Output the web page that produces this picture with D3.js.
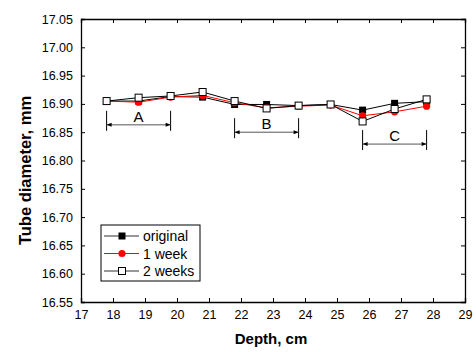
<!DOCTYPE html>
<html>
<head>
<meta charset="utf-8">
<script src="https://cdn.jsdelivr.net/npm/d3@7"></script>
<style>
  body { margin: 0; background: #fff; }
  text { font-family: "Liberation Sans", Arial, sans-serif; }
</style>
</head>
<body>
<div id="chart"></div>
<script>
// data
var depth = [17.8, 18.8, 19.8, 20.8, 21.8, 22.8, 23.8, 24.8, 25.8, 26.8, 27.8];
var original = [16.905, 16.905, 16.913, 16.912, 16.899, 16.899, 16.897, 16.899, 16.889, 16.901, 16.904];
var week1 = [16.905, 16.903, 16.912, 16.915, 16.902, 16.893, 16.896, 16.898, 16.879, 16.886, 16.896];
var weeks2 = [16.905, 16.911, 16.914, 16.921, 16.905, 16.892, 16.897, 16.899, 16.869, 16.891, 16.908];
var xTicks = [17, 18, 19, 20, 21, 22, 23, 24, 25, 26, 27, 28, 29];
var yTicks = [16.55, 16.60, 16.65, 16.70, 16.75, 16.80, 16.85, 16.90, 16.95, 17.00, 17.05];
var seriesNames = ["original", "1 week", "2 weeks"];
// brackets: label, from, to, level
var brackets = [
  {label: "A", x0: 17.8, x1: 19.8, y: 16.863},
  {label: "B", x0: 21.8, x1: 23.8, y: 16.850},
  {label: "C", x0: 25.8, x1: 27.8, y: 16.829}
];

var svgWidth = 476;
var svgHeight = 352;
var margin = {top: 19, right: 11, bottom: 50, left: 81};
var width = svgWidth - margin.left - margin.right;
var height = svgHeight - margin.top - margin.bottom;

var svg = d3.select("#chart").append("svg")
  .attr("width", svgWidth)
  .attr("height", svgHeight);

var g = svg.append("g")
  .attr("transform", `translate(${margin.left}, ${margin.top})`);

var x = d3.scaleLinear().domain([17, 29]).range([0, width]);
var y = d3.scaleLinear().domain([16.55, 17.05]).range([height, 0]);

// axes, ticks inside on all four sides
var bottomAxis = d3.axisBottom(x).tickValues(xTicks).tickSize(-4).tickPadding(8).tickFormat(d3.format("d"));
var leftAxis = d3.axisLeft(y).tickValues(yTicks).tickSize(-4).tickPadding(8).tickFormat(d3.format(".2f"));
var topAxis = d3.axisTop(x).tickValues(xTicks).tickSize(-4).tickFormat("");
var rightAxis = d3.axisRight(y).tickValues(yTicks).tickSize(-4).tickFormat("");

function styleAxis(sel) {
  sel.select(".domain").attr("stroke", "#000").attr("stroke-width", 1.3);
  sel.selectAll(".tick line").attr("stroke", "#000");
  sel.selectAll("text").attr("fill", "#000").style("font-size", "12.5px");
}

g.append("g").attr("transform", `translate(0, ${height})`).call(bottomAxis).call(styleAxis);
g.append("g").call(leftAxis).call(styleAxis);
g.append("g").call(topAxis).call(styleAxis);
g.append("g").attr("transform", `translate(${width}, 0)`).call(rightAxis).call(styleAxis);

// axis titles
svg.append("text")
  .attr("x", margin.left + width / 2 - 2)
  .attr("y", 344)
  .attr("text-anchor", "middle")
  .style("font-size", "15px")
  .style("font-weight", "bold")
  .text("Depth, cm");

svg.append("text")
  .attr("transform", `translate(31, ${margin.top + height / 2 + 10}) rotate(-90)`)
  .attr("text-anchor", "middle")
  .style("font-size", "16.5px")
  .style("font-weight", "bold")
  .text("Tube diameter, mm");

// brackets
brackets.forEach(function(b) {
  var bg = g.append("g");
  var yy = y(b.y);
  [b.x0, b.x1].forEach(function(xv) {
    bg.append("line")
      .attr("x1", x(xv)).attr("x2", x(xv))
      .attr("y1", yy - 14).attr("y2", yy + 6)
      .attr("stroke", "#000").attr("stroke-width", 1);
  });
  bg.append("line")
    .attr("x1", x(b.x0)).attr("x2", x(b.x1))
    .attr("y1", yy).attr("y2", yy)
    .attr("stroke", "#555").attr("stroke-width", 1);
  // arrow heads
  var x0 = x(b.x0), x1 = x(b.x1);
  bg.append("path").attr("d", `M${x0},${yy}L${x0 + 5},${yy - 2}L${x0 + 5},${yy + 2}Z`).attr("fill", "#000");
  bg.append("path").attr("d", `M${x1},${yy}L${x1 - 5},${yy - 2}L${x1 - 5},${yy + 2}Z`).attr("fill", "#000");
  bg.append("text")
    .attr("x", (x0 + x1) / 2)
    .attr("y", yy - 3)
    .attr("text-anchor", "middle")
    .style("font-size", "15px")
    .text(b.label);
});

// series
var series = [
  {name: seriesNames[0], values: original, color: "#000", marker: "filled"},
  {name: seriesNames[1], values: week1, color: "#ff0000", marker: "circle"},
  {name: seriesNames[2], values: weeks2, color: "#000", marker: "open"}
];

var line = d3.line()
  .x(function(d, i) { return x(depth[i]); })
  .y(function(d) { return y(d); });

function drawMarker(sel, type, cx, cy) {
  if (type === "circle") {
    sel.append("circle").attr("cx", cx).attr("cy", cy).attr("r", 3.6).attr("fill", "#ff0000");
  } else if (type === "filled") {
    sel.append("rect").attr("x", cx - 3.5).attr("y", cy - 3.5).attr("width", 7).attr("height", 7).attr("fill", "#000");
  } else {
    sel.append("rect").attr("x", cx - 3.5).attr("y", cy - 3.5).attr("width", 7).attr("height", 7)
      .attr("fill", "#fff").attr("stroke", "#000").attr("stroke-width", 1);
  }
}

series.forEach(function(s) {
  g.append("path")
    .datum(s.values)
    .attr("d", line)
    .attr("fill", "none")
    .attr("stroke", s.color)
    .attr("stroke-width", 1);
});
series.forEach(function(s) {
  var mg = g.append("g");
  s.values.forEach(function(v, i) {
    drawMarker(mg, s.marker, x(depth[i]), y(v));
  });
});

// legend
var legend = svg.append("g").attr("transform", "translate(101, 225)");
legend.append("rect")
  .attr("width", 99).attr("height", 56)
  .attr("fill", "#fff").attr("stroke", "#000").attr("stroke-width", 1);
series.forEach(function(s, i) {
  var ly = 11 + i * 17.5;
  legend.append("line")
    .attr("x1", 3).attr("x2", 38)
    .attr("y1", ly).attr("y2", ly)
    .attr("stroke", s.color === "#000" ? "#333" : s.color).attr("stroke-width", 1);
  drawMarker(legend, s.marker, 21, ly);
  legend.append("text")
    .attr("x", 42).attr("y", ly + 5)
    .style("font-size", "14px")
    .text(s.name);
});
</script>
</body>
</html>
